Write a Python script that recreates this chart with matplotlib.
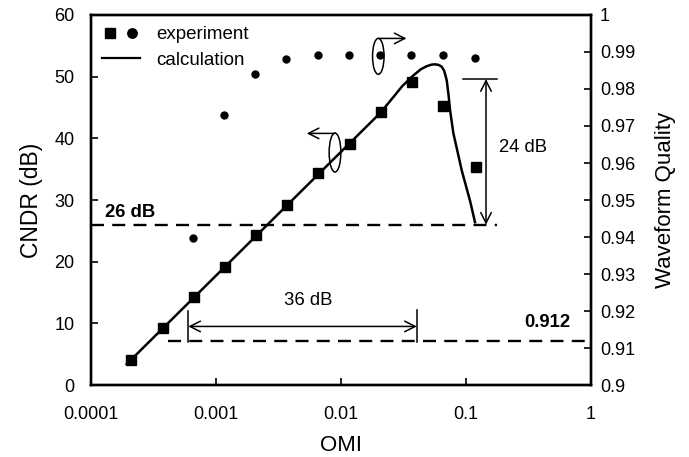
import numpy as np
import matplotlib
matplotlib.use("Agg")
import matplotlib.pyplot as plt
from matplotlib.patches import Ellipse
from matplotlib.transforms import IdentityTransform
from matplotlib.legend_handler import HandlerTuple
from matplotlib.lines import Line2D
from matplotlib.ticker import FixedLocator, FuncFormatter, NullLocator

plt.rcParams['font.family'] = ['Liberation Sans', 'DejaVu Sans']

# ---- data ----
omi_exp = [2.1e-4, 3.75e-4, 6.7e-4, 1.17e-3, 2.08e-3, 3.7e-3, 6.6e-3, 0.0117, 0.0208, 0.0368, 0.0658, 0.12]
cndr_exp = [4.1, 9.2, 14.3, 19.2, 24.3, 29.2, 34.3, 39.1, 44.2, 49.2, 45.2, 35.3]
omi_wq = [6.6e-4, 1.15e-3, 2.04e-3, 3.65e-3, 6.5e-3, 0.0115, 0.0206, 0.0365, 0.065, 0.117]
wq_exp = [0.9398, 0.9729, 0.9840, 0.9882, 0.9892, 0.9892, 0.9892, 0.9892, 0.9892, 0.9883]
omi_calc = [1.93e-4, 0.0208, 0.026, 0.031, 0.0379, 0.0435, 0.0485, 0.053, 0.0565, 0.0605,
            0.064, 0.067, 0.0701, 0.0725, 0.0745, 0.0791, 0.0924, 0.1076, 0.118]
cndr_calc = [3.4, 44.2, 46.6, 48.5, 50.2, 51.2, 51.7, 51.95, 52.0, 51.9,
             51.6, 50.9, 49.4, 47.0, 44.6, 40.9, 34.8, 29.9, 26.4]

xticks = [1e-4, 1e-3, 1e-2, 1e-1, 1]
xticklabels = ['0.0001', '0.001', '0.01', '0.1', '1']
yticks_left = [0, 10, 20, 30, 40, 50, 60]
yticks_right = [0.9, 0.91, 0.92, 0.93, 0.94, 0.95, 0.96, 0.97, 0.98, 0.99, 1.0]

level_26 = 26
level_912 = 0.912

fig = plt.figure(figsize=(6.89, 4.57), dpi=100)
fig.subplots_adjust(left=0.1321, right=0.8578, bottom=0.1575, top=0.9672)
ax = fig.add_subplot(111)
ax2 = ax.twinx()

ax.set_xscale('log')
ax.set_xlim(1e-4, 1)
ax.set_ylim(0, 60)
ax2.set_ylim(0.9, 1.0)

# frame
for a in (ax, ax2):
    for s in a.spines.values():
        s.set_linewidth(1.7)

ax.xaxis.set_major_locator(FixedLocator(xticks))
ax.xaxis.set_major_formatter(FuncFormatter(lambda v, p: xticklabels[xticks.index(v)] if v in xticks else ''))
ax.xaxis.set_minor_locator(NullLocator())
ax.set_yticks(yticks_left)
ax2.set_yticks(yticks_right)
ax2.yaxis.set_major_formatter(FuncFormatter(lambda v, p: f"{round(v, 2):g}"))

ax.tick_params(axis='x', direction='in', length=5, width=1.2, labelsize=13, pad=15)
ax.tick_params(axis='y', direction='in', length=5, width=1.2, labelsize=13, pad=12)
ax2.tick_params(axis='y', direction='in', length=5, width=1.2, labelsize=13, pad=6.5)

ax.set_xlabel('OMI', fontsize=16, labelpad=9)
ax.set_ylabel('CNDR (dB)', fontsize=16.5, labelpad=8)
ax2.set_ylabel('Waveform Quality', fontsize=16, labelpad=14)

# data
ax.plot(omi_calc, cndr_calc, color='k', lw=1.8, zorder=3)
ax.plot(omi_exp, cndr_exp, 's', color='k', markersize=7, zorder=4)
ax2.plot(omi_wq, wq_exp, 'o', color='k', markersize=5, zorder=4)

dash = (0, (5.5, 3.5))
ax.plot([1e-4, 0.176], [level_26, level_26], color='k', lw=1.7, ls=dash, clip_on=False)
ax2.plot([4.16e-4, 1], [level_912, level_912], color='k', lw=1.7, ls=dash)

ax.text(1.3e-4, 27.9, '26 dB', fontsize=13.3, fontweight='bold', ha='left', va='center')
ax.text(0.449, 10.1, '0.912', fontsize=13.3, fontweight='bold', ha='center', va='center')

arr = dict(arrowstyle='<->,head_length=0.75,head_width=0.38', lw=1.1, color='k',
           shrinkA=0, shrinkB=0, mutation_scale=10)
one = dict(arrowstyle='->,head_length=0.75,head_width=0.38', lw=1.1, color='k',
           shrinkA=0, shrinkB=0, mutation_scale=10)

# 36 dB span
ax.annotate('', xy=(6.0e-4, 9.5), xytext=(0.0404, 9.5), arrowprops=arr)
ax.plot([6.0e-4, 6.0e-4], [7.0, 12.0], color='k', lw=1.1)
ax.plot([0.0404, 0.0404], [7.0, 12.2], color='k', lw=1.1)
ax.text(0.00547, 13.7, '36 dB', fontsize=13.3, ha='center', va='center')

# 24 dB span
ax.annotate('', xy=(0.1445, 49.6), xytext=(0.1445, 26.0), arrowprops=arr)
ax.plot([0.095, 0.178], [49.6, 49.6], color='k', lw=1.1, clip_on=False)
ax.text(0.286, 38.5, '24 dB', fontsize=13.3, ha='center', va='center')

# axis indicators (ellipse + arrow)
ax.annotate('', xy=(0.0334, 56.2), xytext=(0.0199, 56.2), arrowprops=one)
ax.annotate('', xy=(0.00532, 40.8), xytext=(0.00895, 40.8), arrowprops=one)
for (ex, ey, w, h) in [(0.01987, 53.3, 11.5, 36.0), (0.00895, 37.7, 11.7, 39.0)]:
    cx, cy = ax.transData.transform((ex, ey))
    e = Ellipse((cx, cy), w, h, transform=IdentityTransform(), fill=False,
                edgecolor='k', lw=1.1)
    ax.add_artist(e)

# legend
sq = Line2D([], [], marker='s', ls='none', color='k', markersize=6.5)
ci = Line2D([], [], marker='o', ls='none', color='k', markersize=6.8)
ln = Line2D([], [], color='k', lw=1.6)
ax.legend([(sq, ci), ln], ['experiment', 'calculation'],
          handler_map={tuple: HandlerTuple(ndivide=None, pad=0.4)},
          loc='upper left', frameon=False, fontsize=13.5, handlelength=2.0,
          handletextpad=0.9, labelspacing=0.45, borderaxespad=0.3, borderpad=0.3)

fig.savefig('out.png', dpi=100)
